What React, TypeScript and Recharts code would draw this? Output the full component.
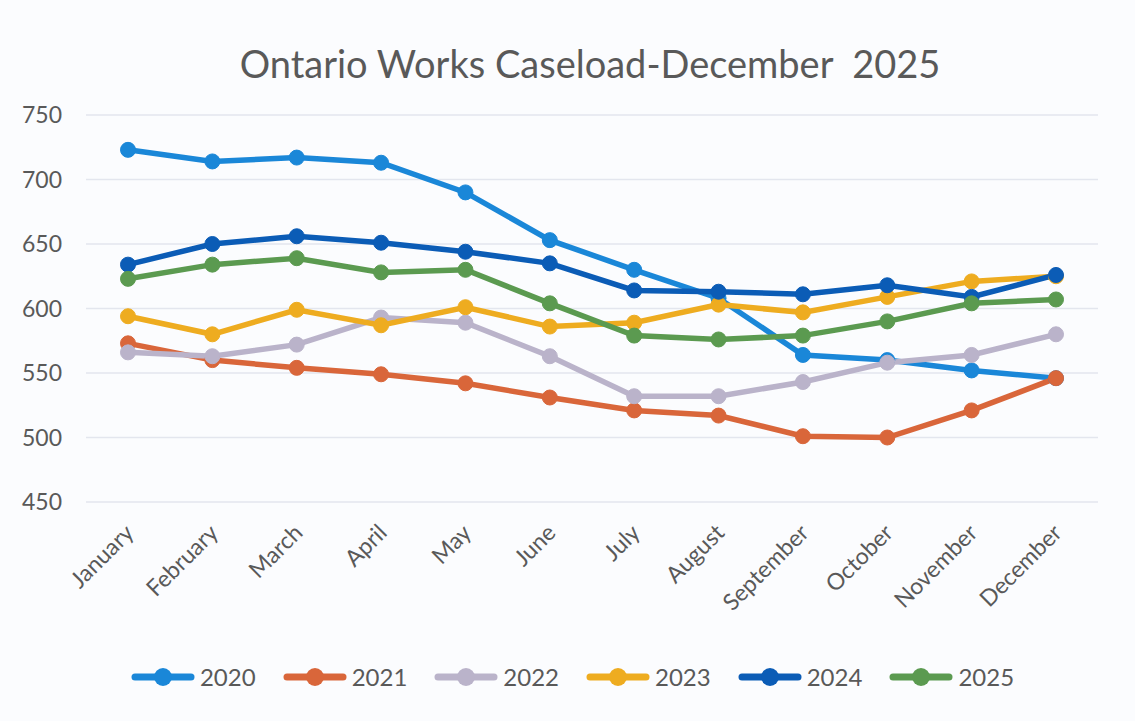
import { CartesianGrid, Legend, Line, LineChart, XAxis, YAxis } from "recharts";

const MONTHS = [
  "January",
  "February",
  "March",
  "April",
  "May",
  "June",
  "July",
  "August",
  "September",
  "October",
  "November",
  "December"
];

const Y_TICKS = [450, 500, 550, 600, 650, 700, 750];

const CASES_2020 = [723, 714, 717, 713, 690, 653, 630, 608, 564, 560, 552, 546];
const CASES_2021 = [573, 560, 554, 549, 542, 531, 521, 517, 501, 500, 521, 546];
const CASES_2022 = [566, 563, 572, 593, 589, 563, 532, 532, 543, 558, 564, 580];
const CASES_2023 = [594, 580, 599, 587, 601, 586, 589, 603, 597, 609, 621, 625];
const CASES_2024 = [634, 650, 656, 651, 644, 635, 614, 613, 611, 618, 609, 626];
const CASES_2025 = [623, 634, 639, 628, 630, 604, 579, 576, 579, 590, 604, 607];

const SERIES = [
  { key: "2020", values: CASES_2020, color: "#1a87d8" },
  { key: "2021", values: CASES_2021, color: "#d9663a" },
  { key: "2022", values: CASES_2022, color: "#bab3ca" },
  { key: "2023", values: CASES_2023, color: "#eeac20" },
  { key: "2024", values: CASES_2024, color: "#0b5cb6" },
  { key: "2025", values: CASES_2025, color: "#5b9a50" }
];

const rows = MONTHS.map((month, i) => {
  const row: Record<string, string | number> = { month };
  SERIES.forEach((s) => {
    row[s.key] = s.values[i];
  });
  return row;
});

const FONT = "Lato, 'Open Sans', sans-serif";
const TEXT = "#595959";

// Excel-style 45° month labels, the end of each word sits just under its tick
function MonthTick({ x, y, payload }: { x: number; y: number; payload: { value: string } }) {
  return (
    <g transform={`translate(${x + 3},${y + 20})`}>
      <text transform="rotate(-45)" textAnchor="end" fill={TEXT} fontSize={23} fontFamily={FONT} dy={6}>
        {payload.value}
      </text>
    </g>
  );
}

function LegendRow() {
  return (
    <div
      style={{
        display: "flex",
        justifyContent: "center",
        gap: 27,
        paddingLeft: 47,
        fontFamily: FONT,
        fontSize: 24,
        color: TEXT
      }}
    >
      {SERIES.map((s) => (
        <div key={s.key} style={{ display: "flex", alignItems: "center", gap: 5 }}>
          <svg width={64} height={22}>
            <line x1={4} y1={11} x2={60} y2={11} stroke={s.color} strokeWidth={7} strokeLinecap="round" />
            <circle cx={32} cy={11} r={9} fill={s.color} />
          </svg>
          <span>{s.key}</span>
        </div>
      ))}
    </div>
  );
}

export default function App() {
  return (
    <div style={{ position: "absolute", left: 0, top: 0, width: 1135, height: 721, background: "#fbfcfe" }}>
      <div
        style={{
          position: "absolute",
          top: 40,
          left: 0,
          width: 1180,
          textAlign: "center",
          fontFamily: FONT,
          fontSize: 38,
          color: TEXT,
          whiteSpace: "pre"
        }}
      >
        {"Ontario Works Caseload-December  2025"}
      </div>
      <LineChart width={1135} height={721} data={rows} margin={{ top: 115, right: 37, bottom: 29, left: 0 }}>
        <CartesianGrid vertical={false} stroke="#e3e6ee" strokeWidth={1.5} />
        <XAxis
          dataKey="month"
          axisLine={false}
          tickLine={false}
          interval={0}
          height={160}
          padding={{ left: 42, right: 42 }}
          tick={(props: any) => <MonthTick {...props} />}
        />
        <YAxis
          domain={[450, 750]}
          ticks={Y_TICKS}
          axisLine={false}
          tickLine={false}
          width={86}
          tickMargin={18}
          tick={{ fill: TEXT, fontSize: 23, fontFamily: FONT }}
        />
        <Legend verticalAlign="bottom" height={30} content={() => <LegendRow />} />
        {SERIES.map((s) => (
          <Line
            key={s.key}
            dataKey={s.key}
            stroke={s.color}
            strokeWidth={5.5}
            dot={{ r: 7.5, fill: s.color, stroke: s.color, strokeWidth: 1 }}
            activeDot={false}
            isAnimationActive={false}
          />
        ))}
      </LineChart>
    </div>
  );
}
